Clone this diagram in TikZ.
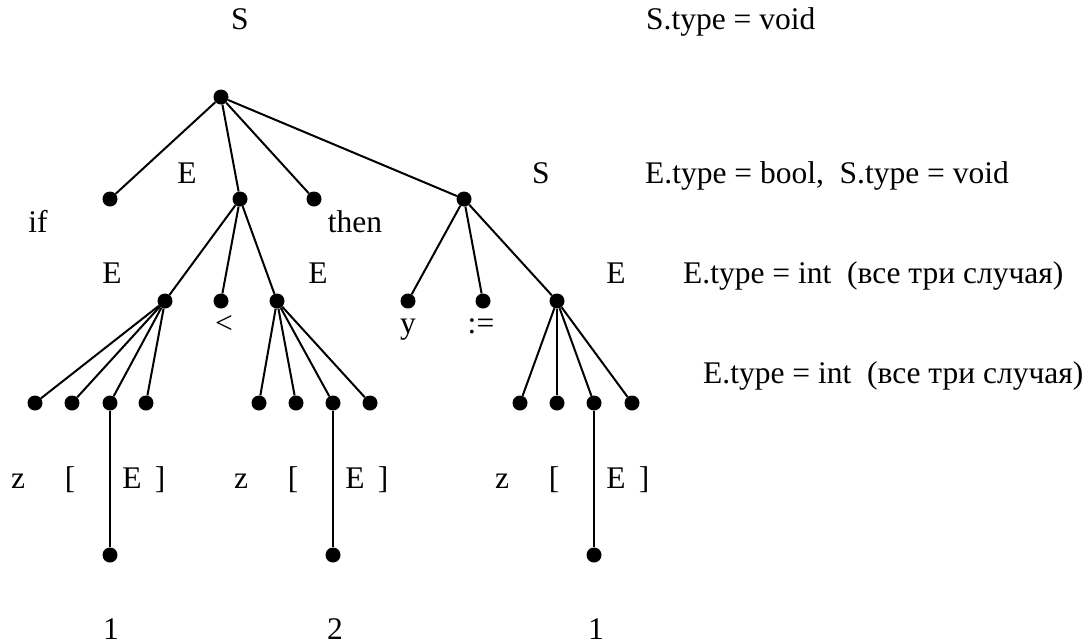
\documentclass[tikz,border=0pt]{standalone}
\usepackage{fontspec}
\setmainfont{Liberation Serif}
\begin{document}
\begin{tikzpicture}[x=1pt,y=-1pt,
  dot/.style={circle,fill=black,draw=none,inner sep=0pt,minimum size=15pt},
  lbl/.style={inner sep=0pt,anchor=base,font=\fontsize{31.5}{36}\selectfont},
  note/.style={inner sep=0pt,anchor=base west,font=\fontsize{31.5}{36}\selectfont},
  edge/.style={line width=2pt}]
\useasboundingbox (0,0) rectangle (1088,641);

% --- tree nodes ---
\node[dot] (r) at (221,97) {};

\node[dot] (kif)   at (110,199) {};
\node[dot] (e1)    at (240,199) {};
\node[dot] (kthen) at (314,199) {};
\node[dot] (s1)    at (464,199) {};

\node[dot] (ea)  at (165,301) {};
\node[dot] (klt) at (221,301) {};
\node[dot] (eb)  at (277,301) {};
\node[dot] (ky)  at (408,301) {};
\node[dot] (kas) at (483,301) {};
\node[dot] (ec)  at (557,301) {};

\node[dot] (a1) at (35,403) {};
\node[dot] (a2) at (72,403) {};
\node[dot] (a3) at (110,403) {};
\node[dot] (a4) at (146,403) {};
\node[dot] (b1) at (259,403) {};
\node[dot] (b2) at (296,403) {};
\node[dot] (b3) at (333,403) {};
\node[dot] (b4) at (370,403) {};
\node[dot] (c1) at (520,403) {};
\node[dot] (c2) at (557,403) {};
\node[dot] (c3) at (594,403) {};
\node[dot] (c4) at (632,403) {};

\node[dot] (na) at (110,555) {};
\node[dot] (nb) at (333,555) {};
\node[dot] (nc) at (594,555) {};

% --- edges ---
\foreach \t in {kif,e1,kthen,s1} \draw[edge] (r) -- (\t);
\foreach \t in {ea,klt,eb} \draw[edge] (e1) -- (\t);
\foreach \t in {ky,kas,ec} \draw[edge] (s1) -- (\t);
\foreach \t in {a1,a2,a3,a4} \draw[edge] (ea) -- (\t);
\foreach \t in {b1,b2,b3,b4} \draw[edge] (eb) -- (\t);
\foreach \t in {c1,c2,c3,c4} \draw[edge] (ec) -- (\t);
\draw[edge] (a3) -- (na);
\draw[edge] (b3) -- (nb);
\draw[edge] (c3) -- (nc);

% --- symbol labels ---
\node[lbl] (lS0) at (240,29) {S};
\node[lbl] (lE1) at (187,183) {E};
\node[lbl] (lS1) at (541,183) {S};
\node[lbl] (lif) at (38,232) {if};
\node[lbl] (lthen) at (355,232) {then};
\node[lbl] (lEa) at (112,283) {E};
\node[lbl] (lEb) at (318,283) {E};
\node[lbl] (lEc) at (616,283) {E};
\node[lbl] (llt) at (224,333) {<};
\node[lbl] (ly) at (408,333) {y};
\node[lbl] (las) at (481,333) {:=};

\foreach \p/\n in {110/a,333/b,594/c}{
  \node[lbl] (z\n)  at (\p-92,488) {z};
  \node[lbl] (o\n)  at (\p-40,488) {[};
  \node[lbl] (e\n x) at (\p+22,488) {E};
  \node[lbl] (k\n)  at (\p+50,488) {]};
}
\node[lbl] (n1) at (111,639) {1};
\node[lbl] (n2) at (335,639) {2};
\node[lbl] (n3) at (596,639) {1};

% --- attribute notes ---
\node[note] (t0) at (646,29) {S.type = void};
\node[note] (t1) at (645,183) {E.type = bool,\ \ S.type = void};
\node[note] (t2) at (683,283) {E.type = int\ \ (все три случая)};
\node[note] (t3) at (703,383) {E.type = int\ \ (все три случая)};
\end{tikzpicture}
\end{document}
